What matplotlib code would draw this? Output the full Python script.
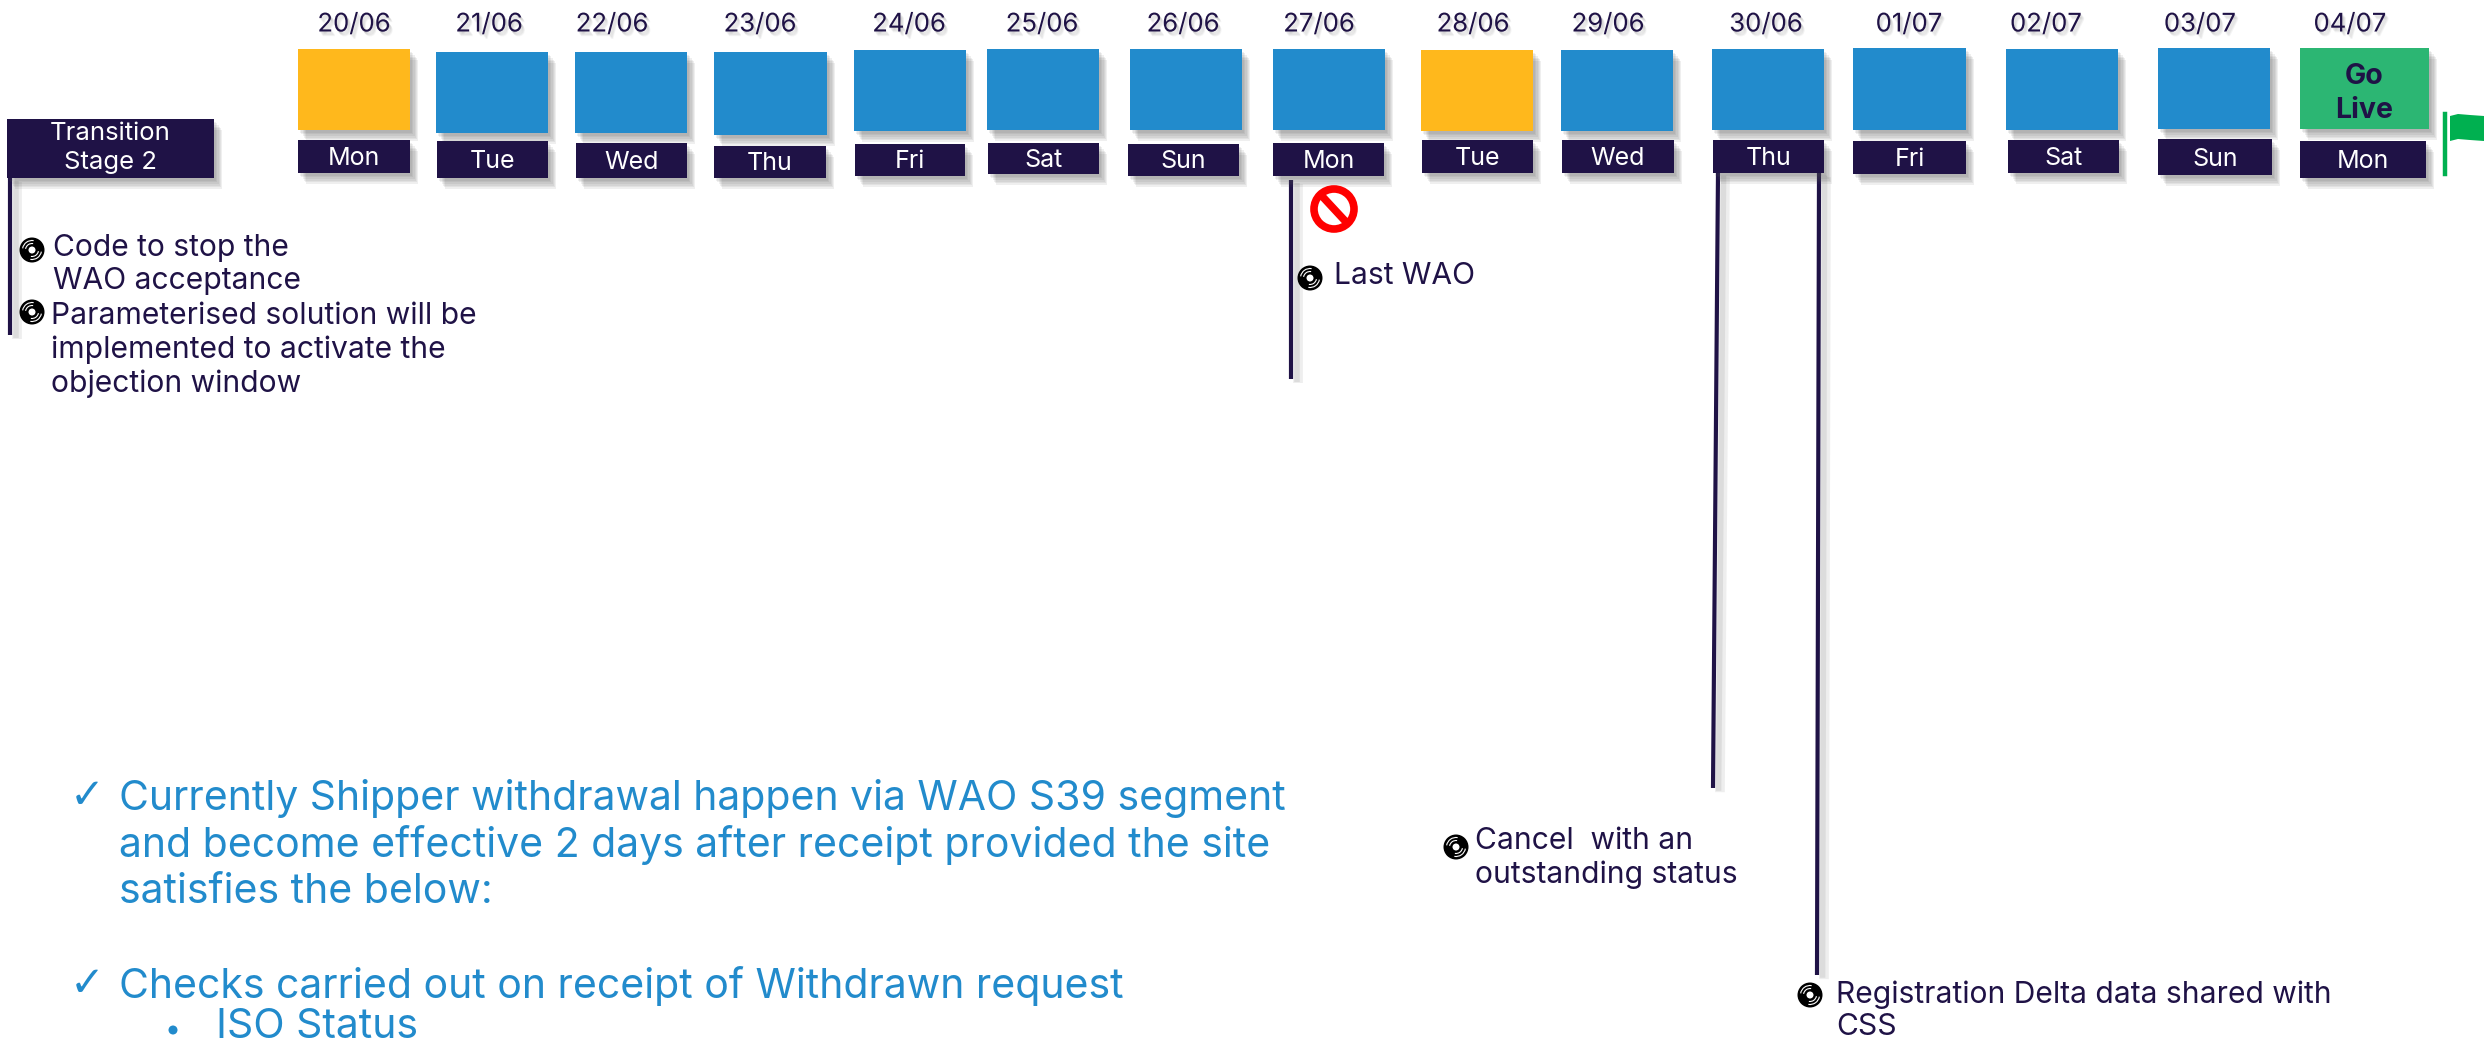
import matplotlib
matplotlib.use("Agg")
import matplotlib.patheffects as pe
import matplotlib.pyplot as plt
from matplotlib.patches import Arc, Circle, Polygon, Rectangle

plt.rcParams["font.family"] = ["Inter", "DejaVu Sans"]

# ========= Content =========
DATES = ["20/06", "21/06", "22/06", "23/06", "24/06", "25/06", "26/06", "27/06",
         "28/06", "29/06", "30/06", "01/07", "02/07", "03/07", "04/07"]
DAYS = ["Mon", "Tue", "Wed", "Thu", "Fri", "Sat", "Sun", "Mon",
        "Tue", "Wed", "Thu", "Fri", "Sat", "Sun", "Mon"]
STATES = ["amber", "blue", "blue", "blue", "blue", "blue", "blue", "blue",
          "amber", "blue", "blue", "blue", "blue", "blue", "green"]

# ========= Layout (pixels of the 2484x1045 canvas) =========
DATE_X = [354, 489, 612, 760, 909, 1042, 1183, 1319, 1473, 1608, 1766, 1909, 2046, 2200, 2350]
BOX_X0 = [298, 436, 575, 714, 854, 987, 1130, 1273, 1421, 1561, 1712, 1853, 2006, 2158, 2300]
BOX_X1 = [410, 548, 687, 827, 966, 1099, 1242, 1385, 1533, 1673, 1824, 1966, 2118, 2270, 2429]
BOX_Y0 = [49, 52, 52, 52, 50, 49, 49, 49, 50, 50, 49, 48, 49, 48, 48]
BOX_Y1 = [130, 133, 133, 135, 131, 130, 130, 130, 131, 131, 130, 130, 130, 129, 129]
DAY_X0 = [298, 437, 576, 714, 855, 988, 1128, 1273, 1422, 1562, 1713, 1853, 2008, 2158, 2300]
DAY_X1 = [410, 548, 687, 826, 965, 1099, 1239, 1384, 1533, 1674, 1824, 1966, 2119, 2272, 2426]
DAY_Y0 = [140, 141, 143, 146, 144, 143, 144, 143, 140, 140, 140, 141, 140, 139, 141]
DAY_Y1 = [173, 178, 178, 178, 176, 174, 176, 176, 173, 173, 173, 174, 173, 175, 178]

# x0, y0, x1, y1
STEMS = [(10, 178, 10, 335), (1291, 180, 1291, 379), (1718, 173, 1713, 788), (1819, 173, 1817, 975)]
DISCS = [(32, 250), (32, 312), (1310, 278), (1456, 847), (1810, 995)]

NOTES = [
    (53, 248, "Code to stop the"),
    (53, 281, "WAO acceptance"),
    (51, 316, "Parameterised solution will be"),
    (51, 350, "implemented to activate the"),
    (51, 384, "objection window"),
    (1334, 276, "Last WAO"),
    (1475, 841, "Cancel  with an"),
    (1475, 875, "outstanding status"),
    (1836, 995, "Registration Delta data shared with"),
    (1836, 1027, "CSS"),
]
BLUE_LINES = [
    (119, 798, "Currently Shipper withdrawal happen via WAO S39 segment"),
    (119, 845, "and become effective 2 days after receipt provided the site"),
    (119, 892, "satisfies the below:"),
    (119, 986, "Checks carried out on receipt of Withdrawn request"),
    (216, 1027, "ISO Status"),
]
CHECK_Y = [799, 987]
FLAG_X = [2450, 2458, 2470, 2484, 2484, 2470, 2458, 2450]
FLAG_Y = [116, 114, 115, 116, 141, 140, 139, 141]

NAVY = "#1F1246"
COLORS = {"amber": "#FFB81C", "blue": "#228BCC", "green": "#2CB673"}


def soft_shadow(dx, dy, alpha=0.09):
    # matplotlib has no blur, so stack a few offset copies
    fx = []
    for k in (1.7, 1.45, 1.2, 0.95, 0.7, 0.45):
        fx.append(pe.SimplePatchShadow(offset=(dx * k, -dy * k), shadow_rgbFace="#555555", alpha=alpha))
    fx.append(pe.Normal())
    return fx


def add_box(ax, x0, y0, x1, y1, color, zorder=2):
    rect = Rectangle((x0, y0), x1 - x0, y1 - y0, facecolor=color, edgecolor="none", zorder=zorder)
    rect.set_path_effects(soft_shadow(3.5, 4.5))
    ax.add_patch(rect)


def add_disc(ax, x, y):
    ax.add_patch(Circle((x, y), 12.5, facecolor="black", edgecolor="none", zorder=4))
    ax.add_patch(Circle((x, y), 3.5, facecolor="white", edgecolor="none", zorder=5))
    for r, a0, a1 in [(6.5, 10, 100), (6.5, 190, 280), (9.5, 10, 100), (9.5, 190, 280)]:
        ax.add_patch(Arc((x, y), 2 * r, 2 * r, theta1=a0, theta2=a1, color="white", lw=0.8, zorder=5))


fig = plt.figure(figsize=(24.84, 10.45), dpi=100, facecolor="white")
ax = fig.add_axes([0, 0, 1, 1])
ax.set_xlim(0, 2484)
ax.set_ylim(1045, 0)
ax.axis("off")

for i, date in enumerate(DATES):
    t = ax.text(DATE_X[i], 25, date, fontsize=18.5, color=NAVY, ha="center", va="center", zorder=3)
    t.set_path_effects(soft_shadow(1.5, 2, alpha=0.05))
    add_box(ax, BOX_X0[i], BOX_Y0[i], BOX_X1[i], BOX_Y1[i], COLORS[STATES[i]])
    add_box(ax, DAY_X0[i], DAY_Y0[i], DAY_X1[i], DAY_Y1[i], NAVY)
    ax.text((DAY_X0[i] + DAY_X1[i]) / 2, (DAY_Y0[i] + DAY_Y1[i]) / 2 + 2, DAYS[i], fontsize=18,
            color="white", ha="center", va="center", zorder=3)

ax.text(2364, 76, "Go", fontsize=20.5, fontweight="bold", color=NAVY, ha="center", va="center", zorder=3)
ax.text(2364, 110, "Live", fontsize=20.5, fontweight="bold", color=NAVY, ha="center", va="center", zorder=3)

# transition flag on the left
add_box(ax, 7, 119, 214, 178, NAVY)
ax.text(110, 133, "Transition", fontsize=18.5, color="white", ha="center", va="center", zorder=3)
ax.text(110, 163, "Stage 2", fontsize=18.5, color="white", ha="center", va="center", zorder=3)

for x0, y0, x1, y1 in STEMS:
    line, = ax.plot([x0, x1], [y0, y1], color=NAVY, lw=3, solid_capstyle="butt", zorder=1)
    line.set_path_effects([pe.SimpleLineShadow(offset=(5, -3), shadow_color="#777777", alpha=0.12, linewidth=7),
                           pe.SimpleLineShadow(offset=(4, -2), shadow_color="#777777", alpha=0.15, linewidth=4),
                           pe.Normal()])

for x, y in DISCS:
    add_disc(ax, x, y)

for x, y, s in NOTES:
    ax.text(x, y, s, fontsize=21.6, color=NAVY, ha="left", va="center", zorder=3)

for x, y, s in BLUE_LINES:
    ax.text(x, y, s, fontsize=29.5, color=COLORS["blue"], ha="left", va="center", zorder=3)
for y in CHECK_Y:
    ax.text(87, y - 3, "\u2713", fontsize=30, color=COLORS["blue"], ha="center", va="center",
            family="DejaVu Sans", zorder=3)
ax.add_patch(Circle((173, 1030), 4.5, facecolor=COLORS["blue"], edgecolor="none", zorder=3))

# no-entry sign under 27/06
ax.add_patch(Circle((1334, 209), 20, facecolor="white", edgecolor="#FF0000", lw=5.5, zorder=3))
ax.plot([1321, 1347], [195, 223], color="#FF0000", lw=5.5, solid_capstyle="butt", zorder=4)

# go-live flag
ax.plot([2445, 2445], [114, 174], color="#00B050", lw=3.2, zorder=3)
ax.add_patch(Polygon(list(zip(FLAG_X, FLAG_Y)), closed=True, facecolor="#00B050", edgecolor="none", zorder=3))

fig.savefig("out.png", dpi=100)
